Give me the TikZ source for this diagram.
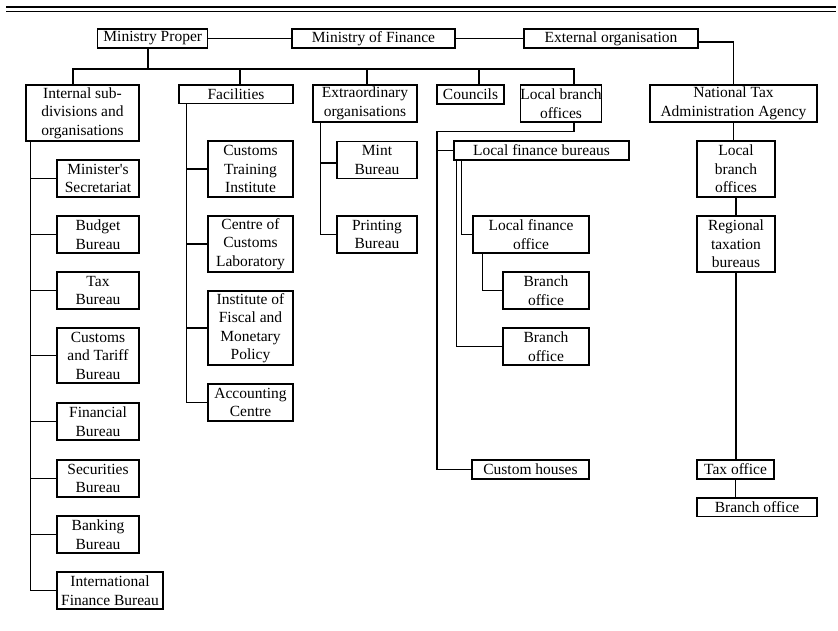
\documentclass[tikz,border=0pt]{standalone}
\usepackage{fontspec}
\setmainfont{Liberation Serif}
\usepackage{tikz}

\begin{document}
\begin{tikzpicture}[x=1pt, y=-1pt, line width=1.1pt,
    unit/.style={draw, align=center, inner sep=0pt,
      font=\fontsize{15.5}{18.5}\selectfont},
    link/.style={line width=1.1pt}]
    \useasboundingbox (0, 0) rectangle (838, 631);

    % draw double rule at the top
    \draw[line width=1.4pt] (6, 7) -- (836, 7);
    \draw[line width=0.9pt] (6, 11) -- (836, 11);

    % draw top row
    \node[unit, minimum width=110, minimum height=19] (proper) at (152.75, 38.5) {Ministry Proper};
    \node[unit, minimum width=163, minimum height=19] (mof) at (373.5, 38.5) {Ministry of Finance};
    \node[unit, minimum width=174, minimum height=19] (extorg) at (611, 38.5) {External organisation};

    % draw second row
    \node[unit, line width=1.8pt, minimum width=113, minimum height=56] (internal) at (82.5, 113) {Internal sub-\\divisions and\\organisations};
    \node[unit, minimum width=114, minimum height=18.5] (facil) at (236, 94.25) {Facilities};
    \node[unit, minimum width=104, minimum height=37] (extra) at (365, 103.5) {Extraordinary\\organisations};
    \node[unit, minimum width=67, minimum height=19] (councils) at (470.5, 94.5) {Councils};
    \node[unit, minimum width=74, minimum height=37] (localbr) at (561, 103.5) {Local branch\\offices};
    \node[unit, minimum width=167, minimum height=37] (ntaa) at (733.5, 103.5) {National Tax\\Administration Agency};

    % draw internal sub-divisions
    \node[unit, minimum width=82, minimum height=37] (minsec) at (98, 178.5) {Minister\textquotesingle s\\Secretariat};
    \node[unit, minimum width=82, minimum height=37] (budget) at (98, 234.5) {Budget\\Bureau};
    \node[unit, minimum width=82, minimum height=37] (taxbur) at (98, 290.5) {Tax\\Bureau};
    \node[unit, minimum width=82, minimum height=55] (custar) at (98, 355.5) {Customs\\and Tariff\\Bureau};
    \node[unit, minimum width=82, minimum height=37] (financial) at (98, 421.5) {Financial\\Bureau};
    \node[unit, minimum width=82, minimum height=37] (securities) at (98, 478.5) {Securities\\Bureau};
    \node[unit, minimum width=82, minimum height=37] (banking) at (98, 534.5) {Banking\\Bureau};
    \node[unit, minimum width=106, minimum height=37] (intlfin) at (110, 590.5) {International\\Finance Bureau};

    % draw facilities
    \node[unit, minimum width=85, minimum height=56] (trainist) at (250.5, 169) {Customs\\Training\\Institute};
    \node[unit, minimum width=85, minimum height=56] (custlab) at (250.5, 244) {Centre of\\Customs\\Laboratory};
    \node[unit, minimum width=85, minimum height=74] (fiscal) at (250.5, 328) {Institute of\\Fiscal and\\Monetary\\Policy};
    \node[unit, minimum width=85, minimum height=37] (acctr) at (250.5, 402.5) {Accounting\\Centre};

    % draw extraordinary organisations
    \node[unit, minimum width=80, minimum height=37] (mint) at (377, 160) {Mint\\Bureau};
    \node[unit, minimum width=80, minimum height=37] (printing) at (377, 234.5) {Printing\\Bureau};

    % draw local branch offices
    \node[unit, minimum width=175, minimum height=19] (lfbur) at (541.5, 150.5) {Local finance bureaus};
    \node[unit, minimum width=116, minimum height=37] (lfoff) at (531, 234.5) {Local finance\\office};
    \node[unit, minimum width=86, minimum height=37] (branchA) at (546, 290.5) {Branch\\office};
    \node[unit, minimum width=86, minimum height=37] (branchB) at (546, 346.5) {Branch\\office};
    \node[unit, minimum width=117, minimum height=19] (customh) at (530.5, 469.5) {Custom houses};

    % draw tax agency column
    \node[unit, minimum width=78, minimum height=56] (ntaalocal) at (736, 169) {Local\\branch\\offices};
    \node[unit, minimum width=78, minimum height=56] (regional) at (736, 244) {Regional\\taxation\\bureaus};
    \node[unit, minimum width=77, minimum height=19] (taxoff) at (735.5, 469.5) {Tax office};
    \node[unit, minimum width=120, minimum height=18.5] (taxbranch) at (757, 507.25) {Branch office};

    % draw top connectors
    \draw[link] (proper) -- (mof);
    \draw[link] (mof) -- (extorg);
    \draw[link] ([yshift=-3.5pt]extorg.east) -| (ntaa.north);

    % draw bus below ministry proper
    \coordinate (bus) at (148, 69);
    \draw[link] (proper.south -| bus) -- (bus);
    \draw[link] (bus) -| ([xshift=-9.5pt]internal.north);
    \draw[link] (bus) -| ([xshift=4pt]facil.north);
    \draw[link] (bus) -| ([xshift=2pt]extra.north);
    \draw[link] (bus) -| ([xshift=8.5pt]councils.north);
    \draw[link] (bus) -| ([xshift=13pt]localbr.north);

    % draw internal branches
    \foreach \n in {minsec, budget, taxbur, custar, financial, securities, banking, intlfin}
      \draw[link] ([xshift=5pt]internal.south west) |- (\n.west);

    % draw facilities branches
    \foreach \n in {trainist, custlab, fiscal, acctr}
      \draw[link] ([xshift=8pt]facil.south west) |- (\n.west);

    % draw extraordinary branches
    \draw[link] ([xshift=8pt]extra.south west) |- ([yshift=-3pt]mint.west);
    \draw[link] ([xshift=8pt]extra.south west) |- (printing.west);

    % draw local branch connectors
    \coordinate (lbus) at (437, 131.5);
    \draw[link] ([xshift=13pt]localbr.south) |- (lbus);
    \draw[link] (lbus) |- (lfbur.west);
    \draw[link] (lbus) |- (customh.west);
    \draw[link] ([xshift=8pt]lfbur.south west) |- (lfoff.west);
    \draw[link] ([xshift=3pt]lfbur.south west) |- (branchB.west);
    \draw[link] ([xshift=10pt]lfoff.south west) |- (branchA.west);

    % draw tax agency connectors
    \draw[link] (ntaalocal.north -| ntaa.south) -- (ntaa.south);
    \draw[link] (ntaalocal) -- (regional);
    \draw[link] (regional.south) -- (taxoff.north -| regional.south);
    \draw[link] (taxoff.south) -- (taxoff.south |- taxbranch.north);

\end{tikzpicture}
\end{document}
